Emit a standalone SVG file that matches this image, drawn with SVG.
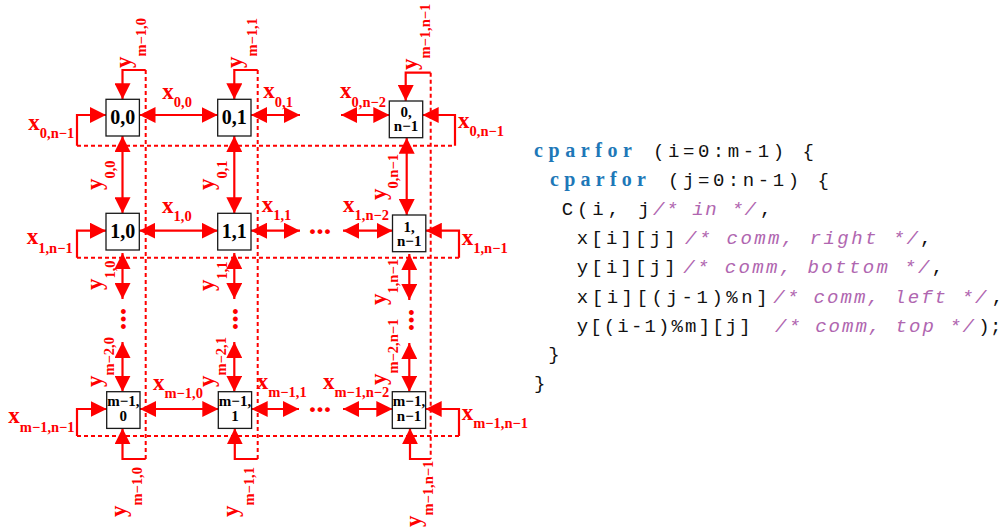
<svg xmlns="http://www.w3.org/2000/svg" width="1003" height="531" viewBox="0 0 1003 531">
<defs>
<style>
.box{fill:#fff;stroke:#1a1a1a;stroke-width:1.3}
.bl{font-family:"Liberation Serif",serif;font-weight:bold;fill:#000;text-anchor:middle}
.big{font-size:20px}
.sm{font-size:15px}
.lab{font-family:"Liberation Serif",serif;font-weight:bold;fill:#f00;font-size:23px}
.sub{font-size:14.5px}
.arr{fill:none;stroke:#f00;stroke-width:2.2}
.dbl{marker-start:url(#ah);marker-end:url(#ah)}
.one{marker-end:url(#ah)}
.dash{fill:none;stroke:#f00;stroke-width:2;stroke-dasharray:4 3}
.dots{font-family:"Liberation Serif",serif;font-weight:bold;font-size:30px;fill:#f00;text-anchor:middle}
.kw{font-family:"Liberation Serif",serif;font-weight:bold;font-size:20px;fill:#1e78b8}
.code{font-family:"Liberation Mono",monospace;font-size:19px;fill:#111}
.cm{font-style:italic;fill:#b066b0}
</style>
<marker id="ah" viewBox="0 0 16 16" refX="16" refY="8" markerWidth="16" markerHeight="16" markerUnits="userSpaceOnUse" orient="auto-start-reverse">
<path d="M0,0 L16,8 L0,16 Z" fill="#f00"/>
</marker>
</defs>

<g id="connectors">
<path class="dash" d="M77,145.7 H455 M77,257.7 H459 M77,436 H459 M145.7,70 V459 M257.7,70 V459 M430.7,72.7 V459"/>
<!-- row 0 -->
<path class="arr one" d="M77,145.7 V115 H106"/>
<path class="arr dbl" d="M139.5,115 H217.7"/>
<path class="arr dbl" d="M251,115 H300"/>
<path class="arr dbl" d="M341,115 H389.3"/>
<path class="arr one" d="M455,145.7 V115 H422.7"/>
<!-- row 1 -->
<path class="arr one" d="M77,257.7 V230.7 H106"/>
<path class="arr dbl" d="M139.3,230.7 H217.7"/>
<path class="arr dbl" d="M251,230.7 H300"/>
<path class="arr dbl" d="M343,230.7 H392.5"/>
<path class="arr one" d="M459,257.7 V230.7 H425.8"/>
<!-- row m-1 -->
<path class="arr one" d="M77,436 V409 H106.7"/>
<path class="arr dbl" d="M140,409 H218.3"/>
<path class="arr dbl" d="M251.7,409 H299"/>
<path class="arr dbl" d="M343,409 H392.3"/>
<path class="arr one" d="M459,436 V409 H425.7"/>
<!-- col 0 -->
<path class="arr one" d="M145.7,70 H122.5 V99.3"/>
<path class="arr dbl" d="M122.5,136 V213.3"/>
<path class="arr dbl" d="M122.5,253 V299"/>
<path class="arr dbl" d="M122.5,342 V391.7"/>
<path class="arr one" d="M145.7,459 H122.5 V428.3"/>
<!-- col 1 -->
<path class="arr one" d="M257.7,70 H234.3 V99.3"/>
<path class="arr dbl" d="M234.3,136 V213.3"/>
<path class="arr dbl" d="M234.3,253 V299"/>
<path class="arr dbl" d="M234.3,342 V391.7"/>
<path class="arr one" d="M257.7,459 H234.8 V428.3"/>
<!-- col n-1 -->
<path class="arr one" d="M430.7,72.7 H405.7 V101"/>
<path class="arr dbl" d="M406.7,137.7 V215"/>
<path class="arr dbl" d="M409.3,254 V300"/>
<path class="arr dbl" d="M409.3,343 V391.7"/>
<path class="arr one" d="M430.7,459 H410 V428.3"/>
</g>

<g id="n00"><rect class="box" x="106" y="99.3" width="33.4" height="36.7"/><text class="bl big" x="122.7" y="124.3">0,0</text></g>
<g id="n01"><rect class="box" x="217.7" y="99.3" width="33.3" height="36.7"/><text class="bl big" x="234.3" y="124.3">0,1</text></g>
<g id="n0n"><rect class="box" x="389.3" y="101" width="33.4" height="36.7"/><text class="bl sm"><tspan x="406" y="117.3">0,</tspan><tspan x="406" dy="14">n−1</tspan></text></g>
<g id="n10"><rect class="box" x="106" y="213.3" width="33.3" height="36.7"/><text class="bl big" x="122.7" y="238.3">1,0</text></g>
<g id="n11"><rect class="box" x="217.7" y="213.3" width="33.3" height="36.7"/><text class="bl big" x="234.3" y="238.3">1,1</text></g>
<g id="n1n"><rect class="box" x="392.5" y="215" width="33.3" height="36.7"/><text class="bl sm"><tspan x="409.2" y="232.3">1,</tspan><tspan x="409.2" dy="14">n−1</tspan></text></g>
<g id="nm0"><rect class="box" x="106.7" y="391.7" width="33.3" height="36.7"/><text class="bl sm"><tspan x="123.3" y="405.7">m−1,</tspan><tspan x="123.3" dy="15">0</tspan></text></g>
<g id="nm1"><rect class="box" x="218.3" y="391.7" width="33.3" height="36.7"/><text class="bl sm"><tspan x="235" y="405.7">m−1,</tspan><tspan x="235" dy="15">1</tspan></text></g>
<g id="nmn"><rect class="box" x="392.3" y="391.7" width="33.3" height="36.7"/><text class="bl sm"><tspan x="409" y="406.2">m−1,</tspan><tspan x="409" dy="14.5">n−1</tspan></text></g>

<g id="labels">
<text class="lab" x="28.3" y="130">x<tspan class="sub" dy="8.3">0,n−1</tspan></text>
<text class="lab" x="162.3" y="99">x<tspan class="sub" dy="8.3">0,0</tspan></text>
<text class="lab" x="263.3" y="98">x<tspan class="sub" dy="8.5">0,1</tspan></text>
<text class="lab" x="340" y="97.5">x<tspan class="sub" dy="9">0,n−2</tspan></text>
<text class="lab" x="458" y="127.5">x<tspan class="sub" dy="8.3">0,n−1</tspan></text>

<text class="lab" x="26.7" y="244">x<tspan class="sub" dy="8.5">1,n−1</tspan></text>
<text class="lab" x="162" y="212.5">x<tspan class="sub" dy="8.3">1,0</tspan></text>
<text class="lab" x="261.7" y="211.7">x<tspan class="sub" dy="8.3">1,1</tspan></text>
<text class="lab" x="343" y="211.7">x<tspan class="sub" dy="8.3">1,n−2</tspan></text>
<text class="lab" x="461.7" y="245">x<tspan class="sub" dy="8.3">1,n−1</tspan></text>

<text class="lab" x="8.3" y="423.3">x<tspan class="sub" dy="8.3">m−1,n−1</tspan></text>
<text class="lab" x="153" y="390">x<tspan class="sub" dy="8.3">m−1,0</tspan></text>
<text class="lab" x="256.7" y="389">x<tspan class="sub" dy="8.3">m−1,1</tspan></text>
<text class="lab" x="323" y="389">x<tspan class="sub" dy="8.3">m−1,n−2</tspan></text>
<text class="lab" x="461.7" y="420">x<tspan class="sub" dy="8.3">m−1,n−1</tspan></text>

<text class="lab" transform="translate(130.5,68) rotate(-90)">y<tspan class="sub" dy="15">m−1,0</tspan></text>
<text class="lab" transform="translate(102,190) rotate(-90)">y<tspan class="sub" dy="13">0,0</tspan></text>
<text class="lab" transform="translate(102,290) rotate(-90)">y<tspan class="sub" dy="13">1,0</tspan></text>
<text class="lab" transform="translate(102,387) rotate(-90)">y<tspan class="sub" dy="12">m−2,0</tspan></text>
<text class="lab" transform="translate(126,517) rotate(-90)">y<tspan class="sub" dy="16">m−1,0</tspan></text>

<text class="lab" transform="translate(242.2,68) rotate(-90)">y<tspan class="sub" dy="15">m−1,1</tspan></text>
<text class="lab" transform="translate(213.7,190) rotate(-90)">y<tspan class="sub" dy="13">0,1</tspan></text>
<text class="lab" transform="translate(213.7,291) rotate(-90)">y<tspan class="sub" dy="13">1,1</tspan></text>
<text class="lab" transform="translate(213.7,387) rotate(-90)">y<tspan class="sub" dy="12">m−2,1</tspan></text>
<text class="lab" transform="translate(237.7,517) rotate(-90)">y<tspan class="sub" dy="16">m−1,1</tspan></text>

<text class="lab" transform="translate(417,70) rotate(-90)">y<tspan class="sub" dy="12.5">m−1,n−1</tspan></text>
<text class="lab" transform="translate(385.5,200) rotate(-90)">y<tspan class="sub" dy="12.5">0,n−1</tspan></text>
<text class="lab" transform="translate(385.5,305) rotate(-90)">y<tspan class="sub" dy="12">1,n−1</tspan></text>
<text class="lab" transform="translate(385.5,385) rotate(-90)">y<tspan class="sub" dy="12">m−2,n−1</tspan></text>
<text class="lab" transform="translate(420.5,527) rotate(-90)">y<tspan class="sub" dy="12">m−1,n−1</tspan></text>

<text class="dots" x="320" y="234">...</text>
<text class="dots" x="320" y="411.5">...</text>
<text class="dots" transform="translate(123.3,319) rotate(90)" y="2.5">...</text>
<text class="dots" transform="translate(235,319) rotate(90)" y="2.5">...</text>
<text class="dots" transform="translate(411,320) rotate(90)" y="2.5">...</text>
</g>

<g id="code">
<text class="code" y="157"><tspan class="kw" x="534" textLength="98" lengthAdjust="spacing">cparfor</tspan><tspan x="653" textLength="161" lengthAdjust="spacing">(i=0:m-1) {</tspan></text>
<text class="code" y="186"><tspan class="kw" x="550" textLength="96" lengthAdjust="spacing">cparfor</tspan><tspan x="668" textLength="161" lengthAdjust="spacing">(j=0:n-1) {</tspan></text>
<text class="code" y="215"><tspan x="561.7" textLength="88" lengthAdjust="spacing">C(i, j</tspan><tspan class="cm" x="653" textLength="103" lengthAdjust="spacing">/* in */</tspan><tspan x="760">,</tspan></text>
<text class="code" y="244"><tspan x="576.7" textLength="99" lengthAdjust="spacing">x[i][j]</tspan><tspan class="cm" x="685" textLength="233" lengthAdjust="spacing">/* comm, right */</tspan><tspan x="920">,</tspan></text>
<text class="code" y="273"><tspan x="576.7" textLength="99" lengthAdjust="spacing">y[i][j]</tspan><tspan class="cm" x="683.3" textLength="246" lengthAdjust="spacing">/* comm, bottom */</tspan><tspan x="931.7">,</tspan></text>
<text class="code" y="303"><tspan x="576.7" textLength="191" lengthAdjust="spacing">x[i][(j-1)%n]</tspan><tspan class="cm" x="773.3" textLength="213" lengthAdjust="spacing">/* comm, left */</tspan><tspan x="991.7">,</tspan></text>
<text class="code" y="332"><tspan x="576.7" textLength="174" lengthAdjust="spacing">y[(i-1)%m][j]</tspan><tspan class="cm" x="775" textLength="199" lengthAdjust="spacing">/* comm, top */</tspan><tspan x="978.3" textLength="23" lengthAdjust="spacing">);</tspan></text>
<text class="code" x="548.3" y="360">}</text>
<text class="code" x="534" y="389">}</text>
</g>
</svg>
